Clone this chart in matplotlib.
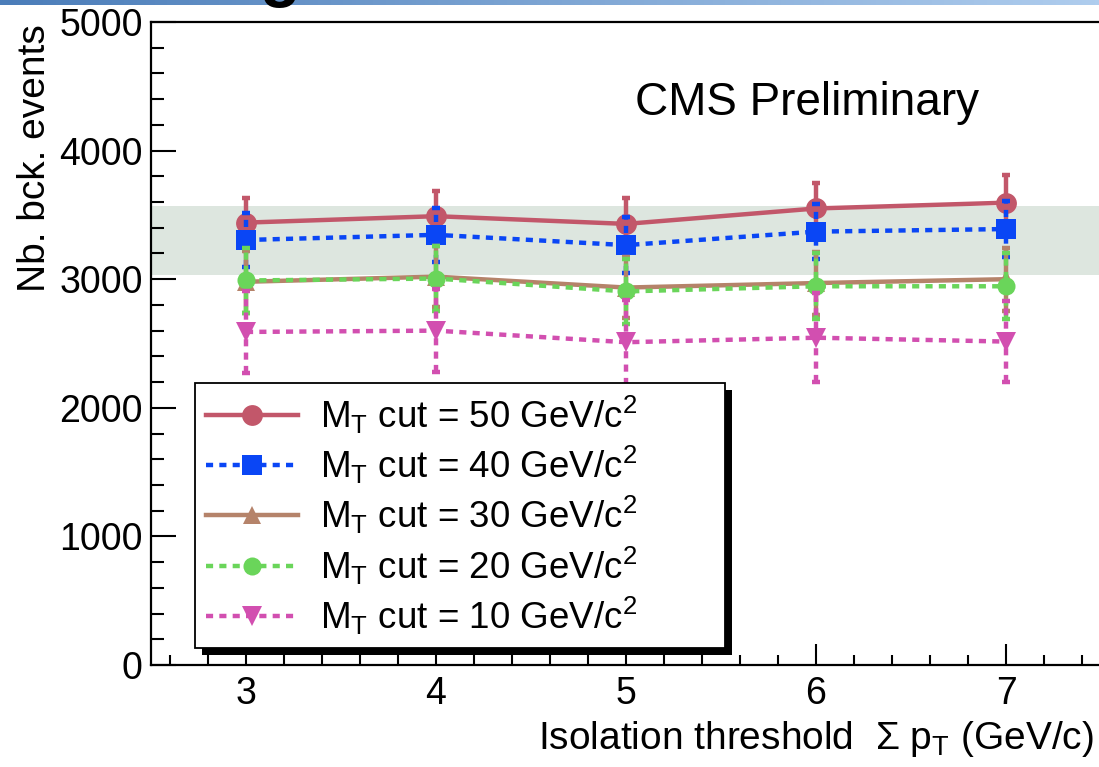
import numpy as np
import matplotlib
matplotlib.use("Agg")
import matplotlib.pyplot as plt
from matplotlib.ticker import MultipleLocator
from matplotlib.patches import Rectangle
from matplotlib.transforms import IdentityTransform

plt.rcParams['font.family'] = ['Liberation Sans', 'DejaVu Sans']
plt.rcParams['mathtext.fontset'] = 'custom'
plt.rcParams['mathtext.rm'] = 'Liberation Sans'
plt.rcParams['mathtext.it'] = 'Liberation Sans:italic'
plt.rcParams['mathtext.bf'] = 'Liberation Sans:bold'

# Isolation threshold (GeV/c)
iso_threshold = [3, 4, 5, 6, 7]

# Estimated background events for each transverse-mass cut
bkg_mt50 = [3440, 3490, 3430, 3550, 3595]
err_mt50 = [190, 195, 200, 200, 215]
bkg_mt40 = [3305, 3345, 3265, 3370, 3390]
err_mt40 = [210, 210, 215, 215, 220]
bkg_mt30 = [2980, 3020, 2935, 2970, 3000]
err_mt30 = [240, 240, 240, 245, 245]
bkg_mt20 = [2990, 3005, 2905, 2945, 2945]
err_mt20 = [250, 250, 250, 255, 255]
bkg_mt10 = [2590, 2600, 2510, 2545, 2515]
err_mt10 = [320, 325, 330, 345, 312]

# Reference band on the expected background
band_low, band_high = 3035, 3570

labels = [
    r'M$_{\mathrm{T}}$ cut = 50 GeV/c$^{2}$',
    r'M$_{\mathrm{T}}$ cut = 40 GeV/c$^{2}$',
    r'M$_{\mathrm{T}}$ cut = 30 GeV/c$^{2}$',
    r'M$_{\mathrm{T}}$ cut = 20 GeV/c$^{2}$',
    r'M$_{\mathrm{T}}$ cut = 10 GeV/c$^{2}$',
]

W, H = 1099, 767
fig = plt.figure(figsize=(W / 100, H / 100), dpi=100)
ax = fig.add_axes([151 / W, 1 - 665 / H, 950 / W, (665 - 22) / H])

ax.axhspan(band_low, band_high, color='#dde6df', zorder=0, lw=0)

dots = (0, (1.6, 1.4))
series = [
    (bkg_mt50, err_mt50, '#c2576a', '-', 'o', 15),
    (bkg_mt40, err_mt40, '#0a46f5', dots, 's', 14),
    (bkg_mt30, err_mt30, '#b5836a', '-', '^', 13),
    (bkg_mt20, err_mt20, '#6ad55a', dots, 'o', 13),
    (bkg_mt10, err_mt10, '#d24fb0', dots, 'v', 14),
]

handles = []
for i, (y, e, col, ls, mk, ms) in enumerate(series):
    z = 2 + 2 * i
    eb = ax.errorbar(iso_threshold, y, yerr=e, fmt='none', ecolor=col,
                     elinewidth=3.2, capsize=3, capthick=3.2, zorder=z)
    for lc in eb[2]:
        lc.set_linestyle(ls)
        lc.set_capstyle('butt')
    line, = ax.plot(iso_threshold, y, color=col, lw=3.2, linestyle=ls,
                    marker=mk, markersize=ms, markeredgewidth=0,
                    dash_capstyle='butt', zorder=z + 1, label=labels[i])
    handles.append(line)

ax.set_xlim(2.5, 7.5)
ax.set_ylim(0, 5000)
ax.xaxis.set_major_locator(MultipleLocator(1))
ax.xaxis.set_minor_locator(MultipleLocator(0.2))
ax.yaxis.set_major_locator(MultipleLocator(1000))
ax.yaxis.set_minor_locator(MultipleLocator(200))

ax.tick_params(axis='x', which='major', direction='in', length=15, width=1.5,
               labelsize=27, pad=8, top=False)
ax.tick_params(axis='x', which='minor', direction='in', length=7, width=1.5, top=False)
ax.tick_params(axis='y', which='major', direction='in', length=18, width=1.5,
               labelsize=27, pad=6, right=False)
ax.tick_params(axis='y', which='minor', direction='in', length=9, width=1.5, right=False)
for s in ax.spines.values():
    s.set_linewidth(1.6)

leg = ax.legend(handles=handles, loc='lower left',
                bbox_to_anchor=(44 / 950, 17 / 643, 530 / 950, 0.4),
                mode='expand', borderaxespad=0, fontsize=26.5, numpoints=1,
                handlelength=2.5, handletextpad=0.6, borderpad=0.3,
                labelspacing=0.22, fancybox=False, framealpha=1,
                edgecolor='black')
leg.get_frame().set_linewidth(1.3)
leg.set_zorder(20)

fig.text(635 / W, 1 - 115 / H, 'CMS Preliminary', fontsize=33,
         ha='left', va='baseline')
fig.text(35 / W, 1 - 24 / H, 'Nb. bck. events', fontsize=28, rotation=90,
         ha='center', va='top')
fig.text(1094 / W, 1 - 749 / H, r'Isolation threshold  Σ p$_{\mathrm{T}}$ (GeV/c)',
         fontsize=28, ha='right', va='baseline')

# Slide title strip along the top edge
strip = fig.add_axes([0, 1 - 5 / H, 1, 5 / H])
grad = np.linspace(0, 1, 256)[None, :, None]
c0 = np.array([75, 125, 185]) / 255
c1 = np.array([175, 205, 238]) / 255
strip.imshow(c0 + (c1 - c0) * grad, aspect='auto', extent=(0, 1, 0, 1))
strip.set_axis_off()
fig.text(280 / W, 1 + 6 / H, 'g', fontsize=48, fontweight='bold',
         ha='center', va='baseline', zorder=10)

# Solid drop shadow behind the legend box
fig.canvas.draw()
bb = leg.get_frame().get_window_extent()
shadow = Rectangle((bb.x0 + 7, bb.y0 - 7), bb.width, bb.height,
                   transform=IdentityTransform(), facecolor='black',
                   edgecolor='none', zorder=19.5, clip_on=False)
ax.add_patch(shadow)

fig.savefig('out.png', dpi=100)
